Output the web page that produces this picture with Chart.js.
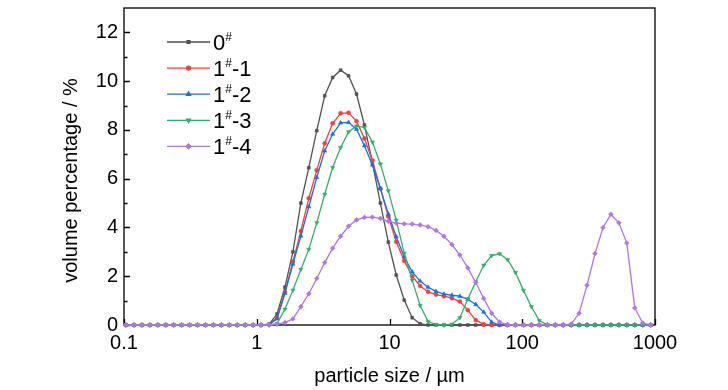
<!DOCTYPE html>
<html><head><meta charset="utf-8">
<script src="https://cdn.jsdelivr.net/npm/chart.js@4.4.1/dist/chart.umd.min.js"></script>
<style>html,body{margin:0;padding:0;background:#fff}#wrap{width:728px;height:390px}</style>
</head><body><div id="wrap"><canvas id="c" width="728" height="390"></canvas></div>
<script>
// particle size classes (µm)
const sizes = [0.1034,0.1187,0.1363,0.1565,0.1796,0.2061,0.2366,0.2716,0.3118,0.3579,0.4108,0.4715,0.5412,0.6213,0.7131,0.8186,0.9395,1.078,1.238,1.421,1.631,1.872,2.149,2.467,2.832,3.250,3.731,4.283,4.916,5.643,6.477,7.435,8.534,9.796,11.24,12.91,14.82,17.01,19.52,22.41,25.72,29.52,33.89,38.90,44.65,51.25,58.83,67.53,77.52,88.98,102.1,117.2,134.5,154.4,177.3,203.5,233.6,268.1,307.7,353.2,405.5,465.4,534.2,613.2,703.9,808.0,927.5];
// volume percentage (%)
const s0 = [0,0,0,0,0,0,0,0,0,0,0,0,0,0,0,0,0,0,0.03,0.45,1.55,3.0,5.0,6.45,7.97,9.4,10.15,10.45,10.22,9.47,8.2,6.65,5.0,3.4,2.05,1.02,0.3,0.05,0,0,0,0,0,0,0,0,0,0,0,0,0,0,0,0,0,0,0,0,0,0,0,0,0,0,0,0,0];
const s1_1 = [0,0,0,0,0,0,0,0,0,0,0,0,0,0,0,0,0,0,0.02,0.3,1.35,2.6,3.85,5.2,6.35,7.45,8.27,8.68,8.7,8.36,7.65,6.75,5.6,4.45,3.41,2.63,2.0,1.6,1.36,1.25,1.18,1.1,0.96,0.61,0.2,0.03,0,0,0,0,0,0,0,0,0,0,0,0,0,0,0,0,0,0,0,0,0];
const s1_2 = [0,0,0,0,0,0,0,0,0,0,0,0,0,0,0,0,0,0,0.02,0.25,1.3,2.5,3.65,4.85,6.05,7.14,7.83,8.29,8.31,8.03,7.35,6.56,5.6,4.55,3.62,2.8,2.18,1.8,1.55,1.38,1.27,1.22,1.18,1.05,0.84,0.53,0.12,0,0,0,0,0,0,0,0,0,0,0,0,0,0,0,0,0,0,0,0];
const s1_3 = [0,0,0,0,0,0,0,0,0,0,0,0,0,0,0,0,0,0,0,0.05,0.65,1.43,2.28,3.1,4.19,5.36,6.46,7.28,7.92,8.16,8.1,7.5,6.6,5.5,4.3,2.94,1.84,0.8,0.14,0.02,0,0.03,0.3,1.07,1.77,2.45,2.85,2.92,2.68,2.15,1.42,0.75,0.18,0.01,0,0,0,0,0,0,0,0,0,0,0,0,0];
const s1_4 = [0,0,0,0,0,0,0,0,0,0,0,0,0,0,0,0,0,0,0.01,0.04,0.1,0.25,0.75,1.28,1.91,2.56,3.15,3.64,4.05,4.31,4.41,4.42,4.37,4.25,4.18,4.15,4.14,4.1,4.03,3.88,3.64,3.3,2.87,2.34,1.74,1.09,0.48,0.12,0.01,0,0,0,0,0,0,0,0.04,0.48,1.63,2.93,3.99,4.54,4.19,3.36,0.7,0.08,0,0];
const seriesNames = ['0#','1#-1','1#-2','1#-3','1#-4'];
const xTicks = [0.1,1,10,100,1000];
const yTicks = [0,2,4,6,8,10,12];
const yMinorTicks = [1,3,5,7,9,11];

const colors = ['#515151','#F14040','#1A6FDF','#37AD6B','#B177DE'];
const styles = [
  {pointStyle:'rect', r:2.0, rot:0},
  {pointStyle:'circle', r:2.0, rot:0},
  {pointStyle:'triangle', r:2.4, rot:0},
  {pointStyle:'triangle', r:2.4, rot:180},
  {pointStyle:'rectRot', r:2.4, rot:0}
];
const allSeries = [s0, s1_1, s1_2, s1_3, s1_4];
const FONT = "'Liberation Sans', Arial, sans-serif";

const datasets = allSeries.map((s, i) => ({
  label: seriesNames[i],
  data: sizes.map((x, j) => ({x: x, y: s[j]})),
  borderColor: colors[i],
  backgroundColor: colors[i],
  borderWidth: 1.3,
  pointStyle: styles[i].pointStyle,
  pointRadius: styles[i].r,
  pointRotation: styles[i].rot,
  pointBorderWidth: 0.6,
  tension: 0,
  clip: false,
  order: 5 - i
}));

const framePlugin = {
  id: 'frame',
  beforeDatasetsDraw(chart) {
    const {ctx, chartArea: {left, right, top, bottom}, scales: {x, y}} = chart;
    ctx.save();
    ctx.strokeStyle = '#000';
    ctx.lineWidth = 1.3;
    ctx.strokeRect(left, top, right - left, bottom - top);
    ctx.beginPath();
    yTicks.forEach(v => { const py = Math.round(y.getPixelForValue(v)) + 0.5; ctx.moveTo(left, py); ctx.lineTo(left + 6, py); });
    yMinorTicks.forEach(v => { const py = Math.round(y.getPixelForValue(v)) + 0.5; ctx.moveTo(left, py); ctx.lineTo(left + 3.5, py); });
    xTicks.forEach(v => { const px = Math.round(x.getPixelForValue(v)) + 0.5; ctx.moveTo(px, bottom); ctx.lineTo(px, bottom - 6); });
    ctx.stroke();
    ctx.restore();
  },
  afterDraw(chart) {
    const {ctx, chartArea: {left, top, bottom}} = chart;
    ctx.save();
    // y axis title
    ctx.translate(71, (top + bottom) / 2 + 14);
    ctx.rotate(-Math.PI / 2);
    ctx.font = '20px ' + FONT;
    ctx.fillStyle = '#000';
    ctx.textAlign = 'center';
    ctx.textBaseline = 'middle';
    ctx.fillText('volume percentage / %', 0, 0);
    ctx.restore();

    // legend
    ctx.save();
    const x0 = left + 43, x1 = left + 86;
    seriesNames.forEach((name, i) => {
      const yy = top + 34 + i * 26.1;
      ctx.strokeStyle = colors[i];
      ctx.lineWidth = 1.3;
      ctx.beginPath(); ctx.moveTo(x0, yy); ctx.lineTo(x1, yy); ctx.stroke();
      Chart.helpers.drawPoint(ctx, {pointStyle: styles[i].pointStyle, radius: styles[i].r, rotation: styles[i].rot, borderWidth: 0.6}, (x0 + x1) / 2, yy);
      ctx.fillStyle = colors[i];
      ctx.fill();
      const parts = name.split('#');
      ctx.fillStyle = '#000';
      ctx.textBaseline = 'alphabetic';
      ctx.textAlign = 'left';
      let tx = x1 + 3;
      ctx.font = '22px ' + FONT;
      ctx.fillText(parts[0], tx, yy + 8);
      tx += ctx.measureText(parts[0]).width;
      ctx.font = '12px ' + FONT;
      ctx.fillText('#', tx, yy - 1);
      tx += ctx.measureText('#').width;
      ctx.font = '22px ' + FONT;
      ctx.fillText(parts[1], tx, yy + 8);
    });
    ctx.restore();
  }
};

new Chart(document.getElementById('c'), {
  type: 'line',
  data: {datasets},
  options: {
    responsive: false,
    animation: false,
    devicePixelRatio: 1,
    layout: {padding: {left: 0, right: 73, top: 8, bottom: 0}},
    plugins: {legend: {display: false}, tooltip: {enabled: false}},
    scales: {
      x: {
        type: 'logarithmic', min: 0.1, max: 1000,
        afterBuildTicks: s => { s.ticks = xTicks.map(v => ({value: v})); },
        afterFit: s => { s.height = 65; s.paddingLeft = 0; s.paddingRight = 0; },
        grid: {display: false, drawTicks: false},
        border: {display: false},
        ticks: {color: '#000', font: {size: 20, family: FONT}, padding: 6, maxRotation: 0, autoSkip: false,
                callback: v => String(v)},
        title: {display: true, text: 'particle size / µm', color: '#000', font: {size: 20, family: FONT}, padding: {top: 0, bottom: 2}}
      },
      y: {
        type: 'linear', min: 0, max: 13,
        afterBuildTicks: s => { s.ticks = yTicks.map(v => ({value: v})); },
        afterFit: s => { s.width = 124; s.paddingTop = 0; s.paddingBottom = 0; },
        grid: {display: false, drawTicks: false},
        border: {display: false},
        ticks: {color: '#000', font: {size: 20, family: FONT}, padding: 6, callback: v => String(v)}
      }
    }
  },
  plugins: [framePlugin]
});
</script></body></html>
